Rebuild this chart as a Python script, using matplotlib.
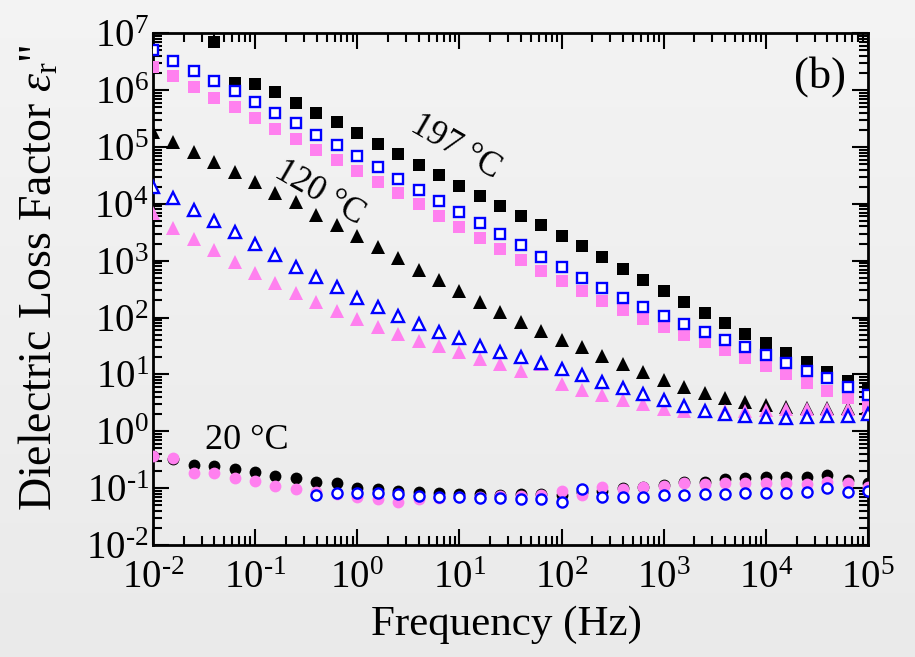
import numpy as np
import matplotlib
matplotlib.use("Agg")
import matplotlib.pyplot as plt
from matplotlib.ticker import LogLocator, FixedLocator, FixedFormatter, NullFormatter

plt.rcParams['font.family'] = ['Liberation Serif', 'DejaVu Serif']
plt.rcParams['mathtext.fontset'] = 'custom'
plt.rcParams['mathtext.rm'] = 'Liberation Serif'
plt.rcParams['mathtext.it'] = 'Liberation Serif:italic'
plt.rcParams['mathtext.bf'] = 'Liberation Serif:bold'
plt.rcParams['axes.unicode_minus'] = False

# Measurement frequencies (Hz), five points per decade
freq = [0.01, 0.0158, 0.0251, 0.0398, 0.0631,
        0.1, 0.158, 0.251, 0.398, 0.631,
        1.0, 1.58, 2.51, 3.98, 6.31,
        10.0, 15.8, 25.1, 39.8, 63.1,
        100.0, 158.0, 251.0, 398.0, 631.0,
        1000.0, 1580.0, 2510.0, 3980.0, 6310.0,
        1.0e4, 1.58e4, 2.51e4, 3.98e4, 6.31e4, 1.0e5]

nan = np.nan

# 197 degC
sq_black = [nan, nan, nan, 7.1e6, 1.35e6, 1.26e6, 9.3e5, 6.0e5, 3.9e5, 2.7e5,
            1.74e5, 1.12e5, 7.4e4, 4.8e4, 3.2e4, 2.1e4, 1.38e4, 9.1e3, 6.2e3, 4.2e3,
            2.75e3, 1.78e3, 1.15e3, 720, 460, 290, 186, 120, 79, 52,
            35, 24, 16.6, 11.2, 7.8, 5.5]
sq_blue = [5.0e6, 3.2e6, 2.2e6, 1.45e6, 9.5e5, 6.2e5, 4.0e5, 2.6e5, 1.66e5, 1.07e5,
           6.9e4, 4.4e4, 2.75e4, 1.74e4, 1.12e4, 7.1e3, 4.6e3, 2.95e3, 1.86e3, 1.17e3,
           760, 490, 330, 220, 151, 105, 76, 56, 41, 30,
           22.4, 16.2, 11.7, 8.5, 6.0, 4.4]
sq_pink = [2.6e6, 1.74e6, 1.15e6, 7.4e5, 5.0e5, 3.3e5, 2.1e5, 1.38e5, 8.9e4, 5.9e4,
           3.8e4, 2.45e4, 1.55e4, 9.8e3, 6.2e3, 3.9e3, 2.5e3, 1.58e3, 1.02e3, 660,
           440, 290, 195, 135, 95, 69, 50, 37, 27, 19.5,
           14.1, 10.2, 7.2, 5.1, 3.8, 2.8]

# 120 degC
tri_black = [1.86e5, 1.23e5, 8.3e4, 5.4e4, 3.6e4, 2.4e4, 1.58e4, 1.07e4, 6.5e3, 4.3e3,
             2.7e3, 1.74e3, 1.1e3, 690, 450, 290, 190, 126, 85, 58,
             41, 30, 21.4, 15.5, 11.2, 8.1, 6.0, 4.8, 3.8, 3.3,
             2.9, 2.7, 2.6, 2.6, 2.6, 2.7]
tri_blue = [2.0e4, 1.26e4, 7.9e3, 5.0e3, 3.2e3, 1.95e3, 1.26e3, 790, 510, 340,
            224, 151, 107, 78, 56, 44, 32, 25, 20, 15.8,
            12.3, 9.8, 7.4, 5.8, 4.5, 3.5, 2.8, 2.3, 2.0, 1.86,
            1.78, 1.70, 1.78, 1.82, 1.86, 2.0]
tri_pink = [6.8e3, 3.8e3, 2.4e3, 1.55e3, 950, 620, 400, 275, 186, 132,
            93, 68, 51, 39, 31, 24.5, 19, 15.1, 11.5, 15.5,
            6.8, 5.4, 4.4, 3.5, 3.0, 2.5, 2.3, 2.25, 2.25, 2.3,
            2.4, 2.45, 2.5, 2.5, 2.5, 2.5]

# 20 degC
cir_black = [0.37, 0.33, 0.257, 0.245, 0.22, 0.195, 0.166, 0.148, 0.130, 0.122,
             0.100, 0.098, 0.089, 0.086, 0.083, 0.080, 0.078, 0.076, 0.078, 0.078,
             0.076, 0.087, 0.090, 0.099, 0.106, 0.114, 0.127, 0.130, 0.143, 0.149,
             0.155, 0.155, 0.160, 0.171, 0.139, 0.125]
cir_blue = [nan, nan, nan, nan, nan, nan, nan, nan, 0.076, 0.083,
            0.083, 0.081, 0.079, 0.074, 0.071, 0.070, 0.066, 0.066, 0.064, 0.065,
            0.056, 0.097, 0.069, 0.069, 0.071, 0.076, 0.076, 0.079, 0.079, 0.083,
            0.083, 0.083, 0.086, 0.102, 0.086, 0.090]
cir_pink = [0.373, 0.335, 0.187, 0.182, 0.153, 0.134, 0.111, 0.098, 0.087, 0.079,
            0.071, 0.064, 0.058, 0.065, 0.066, 0.069, 0.071, 0.073, 0.073, 0.076,
            0.090, 0.076, 0.104, 0.095, 0.105, 0.111, 0.122, 0.117, 0.122, 0.125,
            0.122, 0.122, 0.117, 0.127, 0.122, 0.106]

xtick_vals = [1e-2, 1e-1, 1e0, 1e1, 1e2, 1e3, 1e4, 1e5]
xtick_labels = [r"$10^{‐2}$", r"$10^{‐1}$", r"$10^{0}$", r"$10^{1}$",
                r"$10^{2}$", r"$10^{3}$", r"$10^{4}$", r"$10^{5}$"]
ytick_vals = [1e-2, 1e-1, 1e0, 1e1, 1e2, 1e3, 1e4, 1e5, 1e6, 1e7]
ytick_labels = [r"$10^{‐2}$", r"$10^{‐1}$", r"$10^{0}$", r"$10^{1}$", r"$10^{2}$",
                r"$10^{3}$", r"$10^{4}$", r"$10^{5}$", r"$10^{6}$", r"$10^{7}$"]

PINK = '#ff80ef'
BLUE = '#0000ff'

fig = plt.figure(figsize=(9.15, 6.57), dpi=100)

# soft grey backdrop, slightly lighter towards the top
bg = fig.add_axes([0, 0, 1, 1], zorder=-10)
grad = np.linspace(0, 1, 256).reshape(-1, 1)
c_top = np.array([0.955, 0.955, 0.955])
c_bot = np.array([0.918, 0.918, 0.918])
img = c_top[None, None, :] * (1 - grad[:, :, None]) + c_bot[None, None, :] * grad[:, :, None]
bg.imshow(img, aspect='auto', extent=[0, 1, 0, 1])
bg.set_axis_off()

ax = fig.add_axes([0.1672, 0.1705, 0.7814, 0.7788])
ax.set_facecolor('none')
ax.set_xscale('log')
ax.set_yscale('log')
ax.set_xlim(1e-2, 1e5)
ax.set_ylim(1e-2, 1e7)

ms_sq = 9
ms_tri = 10
ms_cir = 8.5
mew_open = 1.7

# black (filled) series first, pink over them, open blue markers on top
ax.plot(freq, sq_black, 's', color='black', ms=ms_sq, mew=0, zorder=3)
ax.plot(freq, tri_black, '^', color='black', ms=ms_tri, mew=0, zorder=3)
ax.plot(freq, cir_black, 'o', color='black', ms=ms_cir, mew=0, zorder=3)

ax.plot(freq, sq_pink, 's', color=PINK, ms=ms_sq, mew=0, zorder=4)
ax.plot(freq, tri_pink, '^', color=PINK, ms=ms_tri, mew=0, zorder=4)
ax.plot(freq, cir_pink, 'o', color=PINK, ms=ms_cir, mew=0, zorder=4)

ax.plot(freq, sq_blue, 's', mfc='white', mec=BLUE, mew=mew_open, ms=ms_sq - 1.2, zorder=5)
ax.plot(freq, tri_blue, '^', mfc='white', mec=BLUE, mew=mew_open, ms=ms_tri - 1.2, zorder=5)
ax.plot(freq, cir_blue, 'o', mfc='white', mec=BLUE, mew=mew_open, ms=ms_cir - 1.2, zorder=5)

# axes frame and ticks
for sp in ax.spines.values():
    sp.set_linewidth(2.0)
ax.xaxis.set_major_locator(FixedLocator(xtick_vals))
ax.xaxis.set_major_formatter(FixedFormatter(xtick_labels))
ax.yaxis.set_major_locator(FixedLocator(ytick_vals))
ax.yaxis.set_major_formatter(FixedFormatter(ytick_labels))
ax.xaxis.set_minor_locator(LogLocator(base=10, subs=np.arange(2, 10), numticks=20))
ax.yaxis.set_minor_locator(LogLocator(base=10, subs=np.arange(2, 10), numticks=20))
ax.xaxis.set_minor_formatter(NullFormatter())
ax.yaxis.set_minor_formatter(NullFormatter())
ax.tick_params(which='both', direction='in', top=True, right=True, width=1.5)
ax.tick_params(which='major', length=11.5)
ax.tick_params(which='minor', length=6.5)
ax.tick_params(axis='x', which='major', labelsize=28, pad=11)
ax.tick_params(axis='y', which='major', labelsize=28, pad=3)

ax.set_xlabel('Frequency (Hz)', fontsize=31)
ax.set_ylabel('Dielectric Loss Factor $\\varepsilon_{\\mathrm{r}}$"', fontsize=33)
ax.xaxis.set_label_coords(0.494, -0.118)
ax.yaxis.set_label_coords(-0.128, 0.522)

# temperature labels
ax.text(9.1, 1.0e5, '197 °C', fontsize=25, rotation=-30, ha='center', va='center',
        rotation_mode='anchor', zorder=6)
ax.text(0.43, 1.55e4, '120 °C', fontsize=25, rotation=-30, ha='center', va='center',
        rotation_mode='anchor', zorder=6)
ax.text(0.083, 0.676, '20 °C', fontsize=26, ha='center', va='center', zorder=6)
ax.text(0.933, 0.915, '(b)', fontsize=32, ha='center', va='center', transform=ax.transAxes)

fig.savefig('out.png', dpi=100)
